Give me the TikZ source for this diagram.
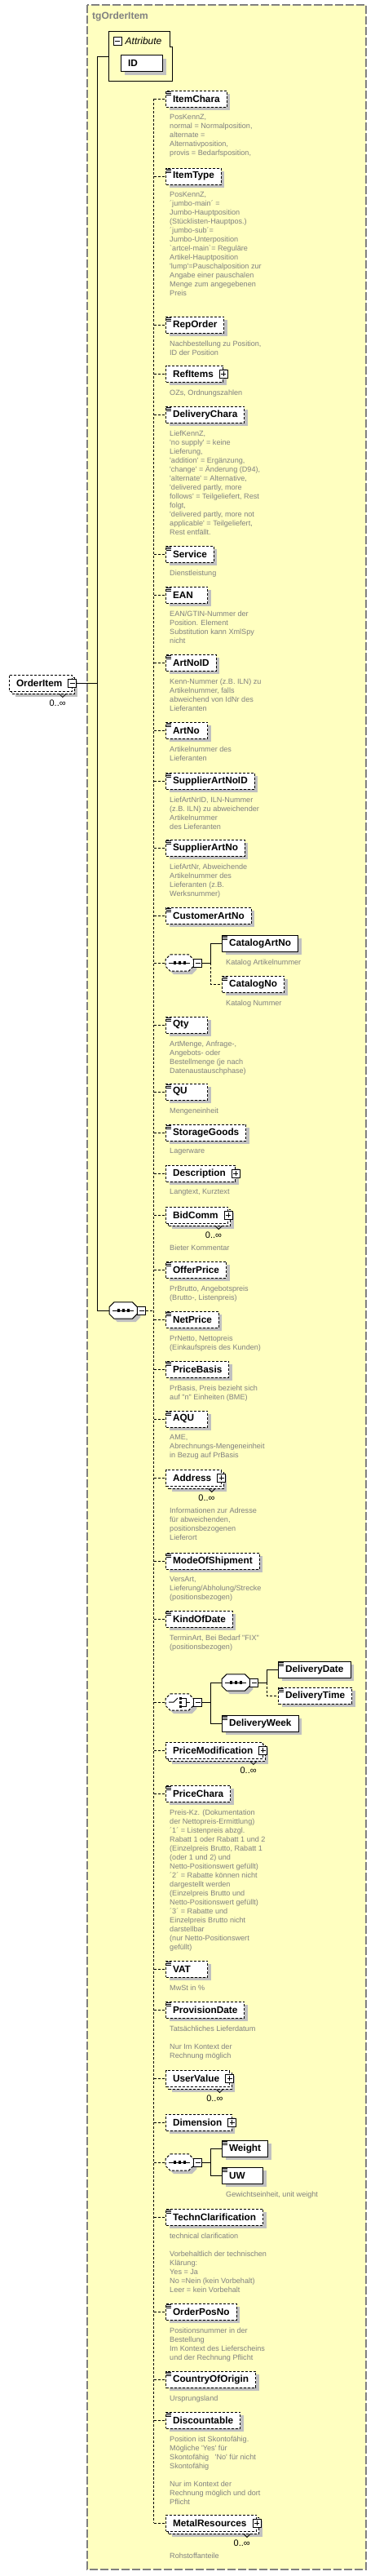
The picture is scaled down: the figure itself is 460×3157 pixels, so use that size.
\documentclass[tikz,border=0pt]{standalone}
\usepackage{fontspec}
\setmainfont{Liberation Sans}[Ligatures=TeXOff]
\usetikzlibrary{shadows}

\definecolor{bgyellow}{RGB}{255,255,192}
\definecolor{shadowgray}{RGB}{192,192,192}
\definecolor{descgray}{RGB}{128,128,128}
\definecolor{framegray}{RGB}{128,128,128}

\begin{document}
\begin{tikzpicture}[x=1pt, y=-1pt,
  elem/.style={draw, fill=white, line width=1pt, anchor=west, minimum height=20pt,
    inner xsep=8.5pt, inner ysep=0pt, font=\fontsize{11.8}{13}\selectfont\bfseries,
    general shadow={fill=shadowgray, shadow xshift=4pt, shadow yshift=-4pt}},
  opt/.style={dash pattern=on 3pt off 2pt},
  short/.style={text width=34pt, align=left},
  cplx/.style={execute at end node={\hspace{3.5pt}}},
  multi/.style={general shadow={fill=shadowgray, shadow xshift=7pt, shadow yshift=-7pt},
    general shadow={fill=white, draw=black, line width=1pt, dash pattern=on 3pt off 2pt,
      shadow xshift=3pt, shadow yshift=-3pt}},
  desc/.style={anchor=north west, inner sep=0pt, align=left, text=descgray,
    font=\fontsize{9.1}{11}\selectfont},
  mult/.style={anchor=north east, inner sep=0pt, font=\fontsize{11}{13}\selectfont},
  link/.style={line width=1pt},
  toggle/.style={draw, solid, fill=white, line width=0.8pt, minimum size=10pt, inner sep=0pt},
  minus/.style={toggle, path picture={
      \draw[black, line width=0.8pt] ([xshift=2pt]path picture bounding box.west) -- ([xshift=-2pt]path picture bounding box.east);}},
  plus/.style={toggle, path picture={
      \draw[black, line width=0.8pt] ([xshift=2pt]path picture bounding box.west) -- ([xshift=-2pt]path picture bounding box.east);
      \draw[black, line width=0.8pt] ([yshift=2pt]path picture bounding box.south) -- ([yshift=-2pt]path picture bounding box.north);}},
  seqbox/.style={anchor=west, minimum width=34pt, minimum height=20pt, inner sep=0pt},
  octpath/.style args={#1/#2/#3}{insert path={
      ([xshift=#2+6pt,yshift=#3]#1.north west) -- ([xshift=#2-6pt,yshift=#3]#1.north east)
      -- ([xshift=#2,yshift=#3-6pt]#1.north east) -- ([xshift=#2,yshift=#3+6pt]#1.south east)
      -- ([xshift=#2-6pt,yshift=#3]#1.south east) -- ([xshift=#2+6pt,yshift=#3]#1.south west)
      -- ([xshift=#2,yshift=#3+6pt]#1.south west) -- ([xshift=#2,yshift=#3-6pt]#1.north west) -- cycle}}
]
  \useasboundingbox (0,0) rectangle (460,3157);
  \draw[fill=bgyellow, draw=framegray, line width=1.3pt, dash pattern=on 10pt off 3pt] (107,6) rectangle (449,3149);
  \node[anchor=west, inner sep=0pt, text=framegray, font=\fontsize{12}{14}\selectfont\bfseries] (title) at (113,20) {tgOrderItem};

  % attributes
  \node[inner sep=0pt, minimum width=77pt, minimum height=60pt] (attr) at (172.5,69) {};
  \draw[link] (attr.south west) |- ([xshift=-3pt]attr.north east) |- ([yshift=-19pt]attr.north east) -- (attr.south east) -- cycle;
  \node[minus, anchor=west] (attrm) at (139,50) {};
  \node[anchor=west, inner sep=0pt, font=\fontsize{12}{14}\selectfont\itshape] (attrlbl) at (153.5,50) {Attribute};
  \node[elem, short] (ID) at (148,77.5) {ID};

  % the element itself
  \node[elem, opt, multi, cplx] (OrderItem) at (11,837) {OrderItem};
  \node[minus] (OrderItemm) at (OrderItem.east) {};

  % sequences and choice
  \node[seqbox] (mseq) at (134,1606) {};
  \node[seqbox] (catseq) at (203,1180) {};
  \node[seqbox] (choice) at (203,2086) {};
  \node[seqbox] (dseq) at (272,2062) {};
  \node[seqbox] (wseq) at (203,2650) {};
  \foreach \n/\pat in {mseq/solid, catseq/opt, choice/opt, dseq/solid, wseq/opt} {
    \fill[shadowgray, octpath=\n/4pt/-4pt];
    \draw[link, fill=white, \pat, octpath=\n/0pt/0pt];
    \node[minus, anchor=west] (\n m) at (\n.east) {};
  }
  \foreach \n in {mseq, catseq, dseq, wseq} {
    \draw[link] ([xshift=4pt]\n.west) -- ([xshift=-4pt]\n.east);
    \foreach \d in {-6,0,6}
      \fill[black] ([xshift=\d pt]\n.center) +(-1.6,-1.6) rectangle +(1.6,1.6);
  }
  \draw[link] ([xshift=4pt]choice.west) -- ++(6,0) -- ++(5,-5);
  \foreach \d in {-5,0,5}
    \fill[black] ([xshift=1pt,yshift=\d pt]choice.center) +(-1.5,-1.5) rectangle +(1.5,1.5);
  \draw[link] ([xshift=3pt,yshift=5pt]choice.center) -| ([xshift=8pt,yshift=-5pt]choice.center) -- ++(-5,0);
  \draw[link] ([xshift=8pt]choice.center) -- ++(5,0);

  \coordinate (trunk) at (119.5,0);
  \draw[link] (attr.west) -- (trunk |- attr.west) -- (trunk |- mseq.west) -- (mseq.west);
  \draw[link] (OrderItemm.east) -- (trunk |- OrderItemm.east);

  % children
  \node[elem, opt] (ItemChara) at (203,121) {ItemChara};
  \node[desc] (ItemChara d) at ([xshift=5pt,yshift=-9pt]ItemChara.south west)
    {PosKennZ,\\normal = Normalposition,\\alternate =\\Alternativposition,\\provis = Bedarfsposition,};

  \node[elem, opt] (ItemType) at (203,216) {ItemType};
  \node[desc] (ItemType d) at ([xshift=5pt,yshift=-9pt]ItemType.south west)
    {PosKennZ,\\´jumbo-main´ =\\Jumbo-Hauptposition\\(Stücklisten-Hauptpos.)\\´jumbo-sub´=\\Jumbo-Unterposition\\`artcel-main`= Reguläre\\Artikel-Hauptposition\\'lump'=Pauschalposition zur\\Angabe einer pauschalen\\Menge zum angegebenen\\Preis};

  \node[elem, opt] (RepOrder) at (203,398) {RepOrder};
  \node[desc] (RepOrder d) at ([xshift=5pt,yshift=-9pt]RepOrder.south west)
    {Nachbestellung zu Position,\\ID der Position};

  \node[elem, opt, cplx] (RefItems) at (203,458) {RefItems};
  \node[desc] (RefItems d) at ([xshift=5pt,yshift=-9pt]RefItems.south west) {OZs, Ordnungszahlen};

  \node[elem, opt] (DeliveryChara) at (203,508) {DeliveryChara};
  \node[desc] (DeliveryChara d) at ([xshift=5pt,yshift=-9pt]DeliveryChara.south west)
    {LiefKennZ,\\'no supply' = keine\\Lieferung,\\'addition' = Ergänzung,\\'change' = Änderung (D94),\\'alternate' = Alternative,\\'delivered partly, more\\follows' = Teilgeliefert, Rest\\folgt,\\'delivered partly, more not\\applicable' = Teilgeliefert,\\Rest entfällt.};

  \node[elem, opt] (Service) at (203,679) {Service};
  \node[desc] (Service d) at ([xshift=5pt,yshift=-9pt]Service.south west) {Dienstleistung};

  \node[elem, opt, short] (EAN) at (203,729) {EAN};
  \node[desc] (EAN d) at ([xshift=5pt,yshift=-9pt]EAN.south west)
    {EAN/GTIN-Nummer der\\Position. Element\\Substitution kann XmlSpy\\nicht};

  \node[elem, opt] (ArtNoID) at (203,812) {ArtNoID};
  \node[desc] (ArtNoID d) at ([xshift=5pt,yshift=-9pt]ArtNoID.south west)
    {Kenn-Nummer (z.B. ILN) zu\\Artikelnummer, falls\\abweichend von IdNr des\\Lieferanten};

  \node[elem, opt, short] (ArtNo) at (203,895) {ArtNo};
  \node[desc] (ArtNo d) at ([xshift=5pt,yshift=-9pt]ArtNo.south west) {Artikelnummer des\\Lieferanten};

  \node[elem, opt] (SupplierArtNoID) at (203,957) {SupplierArtNoID};
  \node[desc] (SupplierArtNoID d) at ([xshift=5pt,yshift=-9pt]SupplierArtNoID.south west)
    {LiefArtNrID, ILN-Nummer\\(z.B. ILN) zu abweichender\\Artikelnummer\\des Lieferanten};

  \node[elem, opt] (SupplierArtNo) at (203,1039) {SupplierArtNo};
  \node[desc] (SupplierArtNo d) at ([xshift=5pt,yshift=-9pt]SupplierArtNo.south west)
    {LiefArtNr, Abweichende\\Artikelnummer des\\Lieferanten (z.B.\\Werksnummer)};

  \node[elem, opt] (CustomerArtNo) at (203,1122) {CustomerArtNo};

  \node[elem] (CatalogArtNo) at (272,1156) {CatalogArtNo};
  \node[desc] (CatalogArtNo d) at ([xshift=5pt,yshift=-9pt]CatalogArtNo.south west) {Katalog Artikelnummer};
  \node[elem, opt] (CatalogNo) at (272,1206) {CatalogNo};
  \node[desc] (CatalogNo d) at ([xshift=5pt,yshift=-9pt]CatalogNo.south west) {Katalog Nummer};
  \draw[link] (catseqm.east) -- ++(10,0) |- (CatalogArtNo.west);
  \draw[link, opt] ([xshift=10pt]catseqm.east) |- (CatalogNo.west);

  \node[elem, opt, short] (Qty) at (203,1256) {Qty};
  \node[desc] (Qty d) at ([xshift=5pt,yshift=-9pt]Qty.south west)
    {ArtMenge, Anfrage-,\\Angebots- oder\\Bestellmenge (je nach\\Datenaustauschphase)};

  \node[elem, opt, short] (QU) at (203,1338) {QU};
  \node[desc] (QU d) at ([xshift=5pt,yshift=-9pt]QU.south west) {Mengeneinheit};

  \node[elem, opt] (StorageGoods) at (203,1388) {StorageGoods};
  \node[desc] (StorageGoods d) at ([xshift=5pt,yshift=-9pt]StorageGoods.south west) {Lagerware};

  \node[elem, opt, cplx] (Description) at (203,1438) {Description};
  \node[desc] (Description d) at ([xshift=5pt,yshift=-9pt]Description.south west) {Langtext, Kurztext};

  \node[elem, opt, multi, cplx] (BidComm) at (203,1489) {BidComm};
  \node[desc] (BidComm d) at ([xshift=5pt,yshift=-26pt]BidComm.south west) {Bieter Kommentar};

  \node[elem, opt] (OfferPrice) at (203,1556) {OfferPrice};
  \node[desc] (OfferPrice d) at ([xshift=5pt,yshift=-9pt]OfferPrice.south west)
    {PrBrutto, Angebotspreis\\(Brutto-, Listenpreis)};

  \node[elem, opt] (NetPrice) at (203,1617) {NetPrice};
  \node[desc] (NetPrice d) at ([xshift=5pt,yshift=-9pt]NetPrice.south west)
    {PrNetto, Nettopreis\\(Einkaufspreis des Kunden)};

  \node[elem, opt] (PriceBasis) at (203,1678) {PriceBasis};
  \node[desc] (PriceBasis d) at ([xshift=5pt,yshift=-9pt]PriceBasis.south west)
    {PrBasis, Preis bezieht sich\\auf "n" Einheiten (BME)};

  \node[elem, opt, short] (AQU) at (203,1739) {AQU};
  \node[desc] (AQU d) at ([xshift=5pt,yshift=-9pt]AQU.south west)
    {AME,\\Abrechnungs-Mengeneinheit\\in Bezug auf PrBasis};

  \node[elem, opt, multi, cplx] (Address) at (203,1811) {Address};
  \node[desc] (Address d) at ([xshift=5pt,yshift=-26pt]Address.south west)
    {Informationen zur Adresse\\für abweichenden,\\positionsbezogenen\\Lieferort};

  \node[elem, opt] (ModeOfShipment) at (203,1913) {ModeOfShipment};
  \node[desc] (ModeOfShipment d) at ([xshift=5pt,yshift=-9pt]ModeOfShipment.south west)
    {VersArt,\\Lieferung/Abholung/Strecke\\(positionsbezogen)};

  \node[elem, opt] (KindOfDate) at (203,1984) {KindOfDate};
  \node[desc] (KindOfDate d) at ([xshift=5pt,yshift=-9pt]KindOfDate.south west)
    {TerminArt, Bei Bedarf "FIX"\\(positionsbezogen)};

  \node[elem] (DeliveryDate) at (341,2046) {DeliveryDate};
  \node[elem, opt] (DeliveryTime) at (341,2078) {DeliveryTime};
  \node[elem] (DeliveryWeek) at (272,2112) {DeliveryWeek};
  \draw[link] (choicem.east) -- ++(10,0) |- (dseq.west);
  \draw[link] ([xshift=10pt]choicem.east) |- (DeliveryWeek.west);
  \draw[link] (dseqm.east) -- ++(10,0) |- (DeliveryDate.west);
  \draw[link, opt] ([xshift=10pt]dseqm.east) |- (DeliveryTime.west);

  \node[elem, opt, multi, cplx] (PriceModification) at (203,2145) {PriceModification};

  \node[elem, opt] (PriceChara) at (203,2198) {PriceChara};
  \node[desc] (PriceChara d) at ([xshift=5pt,yshift=-9pt]PriceChara.south west)
    {Preis-Kz. (Dokumentation\\der Nettopreis-Ermittlung)\\´1´ = Listenpreis abzgl.\\Rabatt 1 oder Rabatt 1 und 2\\(Einzelpreis Brutto, Rabatt 1\\(oder 1 und 2) und\\Netto-Positionswert gefüllt)\\´2´ = Rabatte können nicht\\dargestellt werden\\(Einzelpreis Brutto und\\Netto-Positionswert gefüllt)\\´3´ = Rabatte und\\Einzelpreis Brutto nicht\\darstellbar\\(nur Netto-Positionswert\\gefüllt)};

  \node[elem, opt, short] (VAT) at (203,2413) {VAT};
  \node[desc] (VAT d) at ([xshift=5pt,yshift=-9pt]VAT.south west) {MwSt in \%};

  \node[elem, opt] (ProvisionDate) at (203,2463) {ProvisionDate};
  \node[desc] (ProvisionDate d) at ([xshift=5pt,yshift=-9pt]ProvisionDate.south west)
    {Tatsächliches Lieferdatum\\[11pt]Nur Im Kontext der\\Rechnung möglich};

  \node[elem, opt, multi, cplx] (UserValue) at (203,2547) {UserValue};

  \node[elem, opt, cplx] (Dimension) at (203,2601) {Dimension};

  \node[elem] (Weight) at (272,2633) {Weight};
  \node[elem, text width=33pt, align=left] (UW) at (272,2666) {UW};
  \node[desc] (UW d) at ([xshift=5pt,yshift=-9pt]UW.south west) {Gewichtseinheit, unit weight};
  \draw[link] (wseqm.east) -- ++(10,0) |- (Weight.west);
  \draw[link] ([xshift=10pt]wseqm.east) |- (UW.west);

  \node[elem, opt] (TechnClarification) at (203,2717) {TechnClarification};
  \node[desc] (TechnClarification d) at ([xshift=5pt,yshift=-9pt]TechnClarification.south west)
    {technical clarification\\[11pt]Vorbehaltlich der technischen\\Klärung:\\Yes = Ja\\No =Nein (kein Vorbehalt)\\Leer = kein Vorbehalt};

  \node[elem, opt] (OrderPosNo) at (203,2833) {OrderPosNo};
  \node[desc] (OrderPosNo d) at ([xshift=5pt,yshift=-9pt]OrderPosNo.south west)
    {Positionsnummer in der\\Bestellung\\Im Kontext des Lieferscheins\\und der Rechnung Pflicht};

  \node[elem, opt] (CountryOfOrigin) at (203,2916) {CountryOfOrigin};
  \node[desc] (CountryOfOrigin d) at ([xshift=5pt,yshift=-9pt]CountryOfOrigin.south west) {Ursprungsland};

  \node[elem, opt] (Discountable) at (203,2966) {Discountable};
  \node[desc] (Discountable d) at ([xshift=5pt,yshift=-9pt]Discountable.south west)
    {Position ist Skontofähig.\\Mögliche 'Yes' für\\Skontofähig\ \ \ 'No' für nicht\\Skontofähig\\[11pt]Nur im Kontext der\\Rechnung möglich und dort\\Pflicht};

  \node[elem, opt, multi, cplx] (MetalResources) at (203,3092) {MetalResources};
  \node[desc] (MetalResources d) at ([xshift=5pt,yshift=-26pt]MetalResources.south west) {Rohstoffanteile};

  % dashed spine of the sequence
  \coordinate (spine) at (188.7,0);
  \draw[link, opt] (mseqm.east) -- (spine |- mseqm.east);
  \draw[link, opt] (spine |- ItemChara.west) -- (spine |- MetalResources.west);
  \foreach \n in {ItemChara, ItemType, RepOrder, RefItems, DeliveryChara, Service, EAN,
      ArtNoID, ArtNo, SupplierArtNoID, SupplierArtNo, CustomerArtNo, catseq, Qty, QU,
      StorageGoods, Description, BidComm, OfferPrice, NetPrice, PriceBasis, AQU, Address,
      ModeOfShipment, KindOfDate, choice, PriceModification, PriceChara, VAT, ProvisionDate,
      UserValue, Dimension, wseq, TechnClarification, OrderPosNo, CountryOfOrigin,
      Discountable, MetalResources}
    \draw[link, opt] (spine |- \n.west) -- (\n.west);

  % complex types
  \foreach \n in {RefItems, Description, BidComm, Address, PriceModification, UserValue,
      Dimension, MetalResources}
    \node[plus] (\n p) at (\n.east) {};

  % occurrences
  \foreach \n in {OrderItem, BidComm, Address, PriceModification, UserValue, MetalResources} {
    \draw[line width=0.8pt] ([xshift=-16pt,yshift=-3pt]\n.south east) -- ++(4,4) -- ++(4,-4);
    \node[mult] (\n c) at ([xshift=-8pt,yshift=-10pt]\n.south east) {0..∞};
  }

  % simple content marks
  \foreach \n in {ItemChara, ItemType, RepOrder, DeliveryChara, Service, EAN, ArtNoID,
      ArtNo, SupplierArtNoID, SupplierArtNo, CustomerArtNo, CatalogArtNo, CatalogNo, Qty,
      QU, StorageGoods, OfferPrice, NetPrice, PriceBasis, AQU, ModeOfShipment, KindOfDate,
      DeliveryDate, DeliveryTime, DeliveryWeek, PriceChara, VAT, ProvisionDate, Weight, UW,
      TechnClarification, OrderPosNo, CountryOfOrigin, Discountable}
    \foreach \k in {1.5,3.5,5.5}
      \draw[line width=0.8pt] ([xshift=1pt,yshift=-\k pt]\n.north west) -- ++(5.5,0);
\end{tikzpicture}
\end{document}
